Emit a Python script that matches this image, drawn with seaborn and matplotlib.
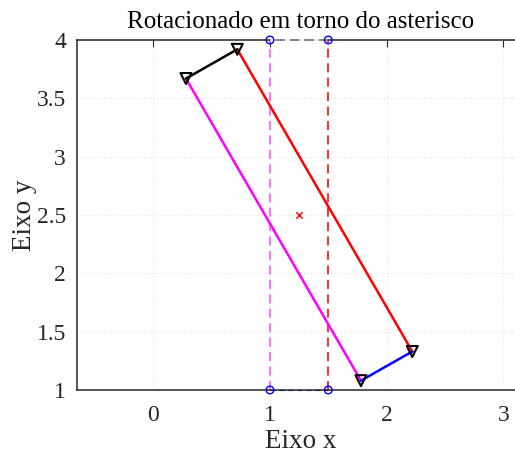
import matplotlib
matplotlib.use("Agg")
import matplotlib.pyplot as plt
import seaborn as sns
import pandas as pd

# Rectangle corners: bottom-left, bottom-right, top-right, top-left
rect_x = [1.0, 1.5, 1.5, 1.0]
rect_y = [1.0, 1.0, 4.0, 4.0]

# Same corners after the rotation about the pivot
rot_x = [1.78, 2.22, 0.72, 0.28]
rot_y = [1.08, 1.33, 3.92, 3.67]

pivot_x = [1.25]
pivot_y = [2.5]

# Sides as pairs of corner indices: left, right, top, bottom
sides = [(0, 3), (1, 2), (2, 3), (0, 1)]
solid_colors = ["#ff00ff", "#ff0000", "#000000", "#0000ff"]
dashed_colors = ["#ff66ff", "#ff2020", "#8c8c8c", "#0000ff"]
dashed_z = [2, 2, 4, 1.5]

x_ticks = [0, 1, 2, 3]
y_ticks = [1, 1.5, 2, 2.5, 3, 3.5, 4]
y_tick_labels = ["1", "1.5", "2", "2.5", "3", "3.5", "4"]

sns.set_style("white")
plt.rcParams["font.family"] = ["Liberation Serif", "DejaVu Serif"]

fig = plt.figure(figsize=(5.15, 4.54), dpi=100)
W, H = 515, 454
ax_left, ax_right, ax_top, ax_bottom = 77, 524, 40, 390
ax = fig.add_axes([ax_left / W, (H - ax_bottom) / H,
                   (ax_right - ax_left) / W, (ax_bottom - ax_top) / H])

px_per_unit = (ax_bottom - ax_top) / 3.0
x0_px = 153.3
ax.set_xlim((ax_left - x0_px) / px_per_unit, (ax_right - x0_px) / px_per_unit)
ax.set_ylim(1, 4)

# Original rectangle (dashed)
for (i, j), c, z in zip(sides, dashed_colors, dashed_z):
    seg = pd.DataFrame({"x": [rect_x[i], rect_x[j]], "y": [rect_y[i], rect_y[j]]})
    sns.lineplot(data=seg, x="x", y="y", ax=ax, sort=False, estimator=None,
                 color=c, linewidth=1.3, linestyle=(0, (5, 3)), zorder=z,
                 clip_on=False)
# the top edge sits on the frame; its gaps show the background
ax.lines[2].set_gapcolor("white")
ax.lines[3].set_linewidth(0.8)

# Rotated rectangle (solid)
for (i, j), c in zip(sides, solid_colors):
    seg = pd.DataFrame({"x": [rot_x[i], rot_x[j]], "y": [rot_y[i], rot_y[j]]})
    sns.lineplot(data=seg, x="x", y="y", ax=ax, sort=False, estimator=None,
                 color=c, linewidth=1.8, zorder=3)

# Corner markers
sns.scatterplot(x=rect_x, y=rect_y, ax=ax, marker="o", s=30,
                facecolor="none", edgecolor="#0000ff", linewidth=1.0,
                zorder=5, clip_on=False)
sns.scatterplot(x=rot_x, y=rot_y, ax=ax, marker="v", s=62,
                facecolor="none", edgecolor="black", linewidth=1.5,
                zorder=5, clip_on=False)

# Pivot point
sns.scatterplot(x=pivot_x, y=pivot_y, ax=ax, marker="x", s=22,
                color="#ff0000", linewidth=1.0, zorder=5)

ax.set_xticks(x_ticks)
ax.set_yticks(y_ticks)
ax.set_yticklabels(y_tick_labels)
ax.grid(True, linestyle=(0, (1, 2)), color="#e3e3e3", linewidth=0.8)
ax.set_axisbelow(True)

ax.tick_params(direction="in", length=5, width=0.8, labelsize=17,
               colors="#262626", top=True, right=False)
ax.tick_params(axis="x", pad=11)
ax.tick_params(axis="y", pad=8)
for s in ax.spines.values():
    s.set_color("#262626")
    s.set_linewidth(1.1)
    s.set_zorder(2.5)

ax.set_xlabel("Eixo x", fontsize=19.5, color="#262626", labelpad=2)
ax.set_ylabel("Eixo y", fontsize=19.5, color="#262626", labelpad=0)
ax.set_title("Rotacionado em torno do asterisco", fontsize=18,
             color="black", pad=9)

fig.savefig("out.png", dpi=100)
